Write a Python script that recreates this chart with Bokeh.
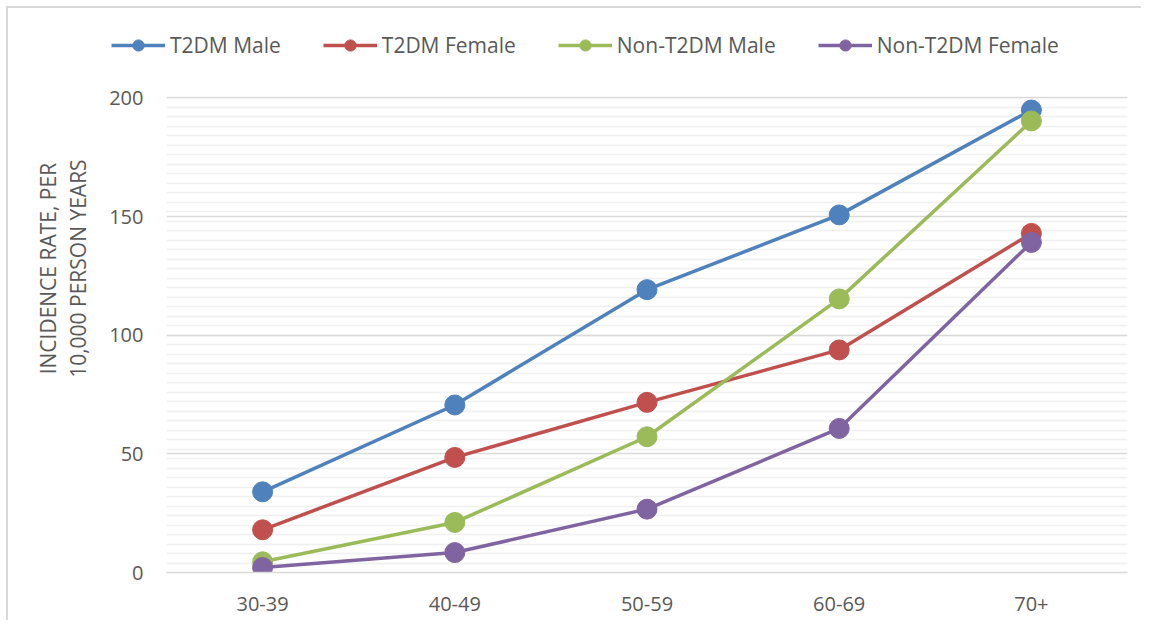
import math
from bokeh.plotting import figure
from bokeh.layouts import column, row
from bokeh.models import (FactorRange, FixedTicker, Legend, LegendItem, Label,
                          ColumnDataSource, Range1d)
from bokeh.embed import file_html
from bokeh.resources import INLINE

categories = ["30-39", "40-49", "50-59", "60-69", "70+"]
t2dm_male = [34.0, 70.6, 119.2, 150.7, 194.9]
t2dm_female = [18.0, 48.5, 71.7, 93.8, 142.9]
non_t2dm_male = [4.5, 21.1, 57.2, 115.3, 190.3]
non_t2dm_female = [2.1, 8.4, 26.7, 60.7, 139.1]

series_names = ["T2DM Male", "T2DM Female", "Non-T2DM Male", "Non-T2DM Female"]
series_values = [t2dm_male, t2dm_female, non_t2dm_male, non_t2dm_female]
series_colors = ["#4F81BD", "#C0504D", "#9BBB59", "#8064A2"]

y_major = [0, 50, 100, 150, 200]
y_minor = list(range(0, 201, 4))
y_title_lines = ["INCIDENCE RATE, PER", "10,000 PERSON YEARS"]

FONT = "Open Sans"
TXT = "#595959"
BORDER = "2px solid #D9D9D9"


def blank(width, height, x0, x1, y0, y1):
    f = figure(width=width, height=height, x_range=Range1d(x0, x1), y_range=Range1d(y0, y1),
               output_backend="svg", toolbar_location=None, x_axis_type=None, y_axis_type=None,
               min_border=0)
    f.outline_line_color = None
    f.grid.grid_line_color = None
    f.background_fill_color = "white"
    f.border_fill_color = "white"
    return f


# ---------- legend strip (top) ----------
leg = blank(1133, 70, 0, 1133, 70, 0)
items = []
for name, col in zip(series_names, series_colors):
    # a single off-canvas sample so the legend has a glyph to draw
    r1 = leg.line(x=[-1000, -999], y=[-1000, -1000], line_color=col, line_width=3.5)
    r2 = leg.scatter(x=[-1000], y=[-1000], size=12.5, fill_color=col, line_color=col)
    items.append(LegendItem(label=name, renderers=[r1, r2]))
legend = Legend(items=items, orientation="horizontal", location=(103, 19),
                padding=0, margin=0, spacing=42, label_standoff=5,
                glyph_width=54, glyph_height=28,
                label_text_font=FONT, label_text_font_size="21px", label_text_color=TXT,
                border_line_color=None, background_fill_alpha=0)
leg.add_layout(legend, "center")

# ---------- y-axis title strip (left) ----------
ttl = blank(98, 542, 0, 98, 542, 0)
for xv, txt in zip([39, 69], y_title_lines):
    ttl.add_layout(Label(x=xv, y=196, text=txt, angle=math.pi / 2,
                         text_align="center", text_baseline="middle",
                         text_font=FONT, text_font_size="21px", text_color=TXT))

# ---------- main chart ----------
p = figure(x_range=FactorRange(*categories, range_padding=0), y_range=(0, 200.6),
           width=1035, height=542, output_backend="svg", toolbar_location=None,
           min_border_left=60, min_border_right=14, min_border_top=18, min_border_bottom=48)
p.outline_line_color = None
p.background_fill_color = "white"
p.border_fill_color = "white"

p.xgrid.grid_line_color = None
p.ygrid.ticker = FixedTicker(ticks=y_major, minor_ticks=y_minor)
p.ygrid.grid_line_color = "#D9D9D9"
p.ygrid.grid_line_width = 1.6
p.ygrid.minor_grid_line_color = "#F0F0F0"
p.ygrid.minor_grid_line_width = 1.4
p.ygrid.level = "underlay"

p.yaxis.ticker = FixedTicker(ticks=y_major, minor_ticks=[])
p.yaxis.axis_line_color = None
p.yaxis.major_tick_line_color = None
p.yaxis.minor_tick_line_color = None
p.yaxis.major_tick_out = 0
p.yaxis.major_tick_in = 0
p.yaxis.minor_tick_out = 0
p.yaxis.major_label_standoff = 23
p.yaxis.major_label_text_font = FONT
p.yaxis.major_label_text_font_size = "20px"
p.yaxis.major_label_text_color = TXT

p.xaxis.axis_line_color = "#D9D9D9"
p.xaxis.axis_line_width = 1.6
p.xaxis.major_tick_line_color = None
p.xaxis.minor_tick_line_color = None
p.xaxis.major_tick_out = 0
p.xaxis.major_tick_in = 0
p.xaxis.major_label_standoff = 24
p.xaxis.major_label_text_font = FONT
p.xaxis.major_label_text_font_size = "20px"
p.xaxis.major_label_text_color = TXT

for vals, col in zip(series_values, series_colors):
    src = ColumnDataSource(dict(x=categories, y=vals))
    p.line("x", "y", source=src, line_color=col, line_width=3.5)
    p.scatter("x", "y", source=src, size=20, fill_color=col, line_color=col)

layout = column(leg, row(ttl, p, spacing=0), spacing=0)
layout.styles = {"border-left": BORDER, "border-top": BORDER,
                 "margin-left": "6px", "margin-top": "6px"}

open("out.html", "w").write(file_html(layout, INLINE))
